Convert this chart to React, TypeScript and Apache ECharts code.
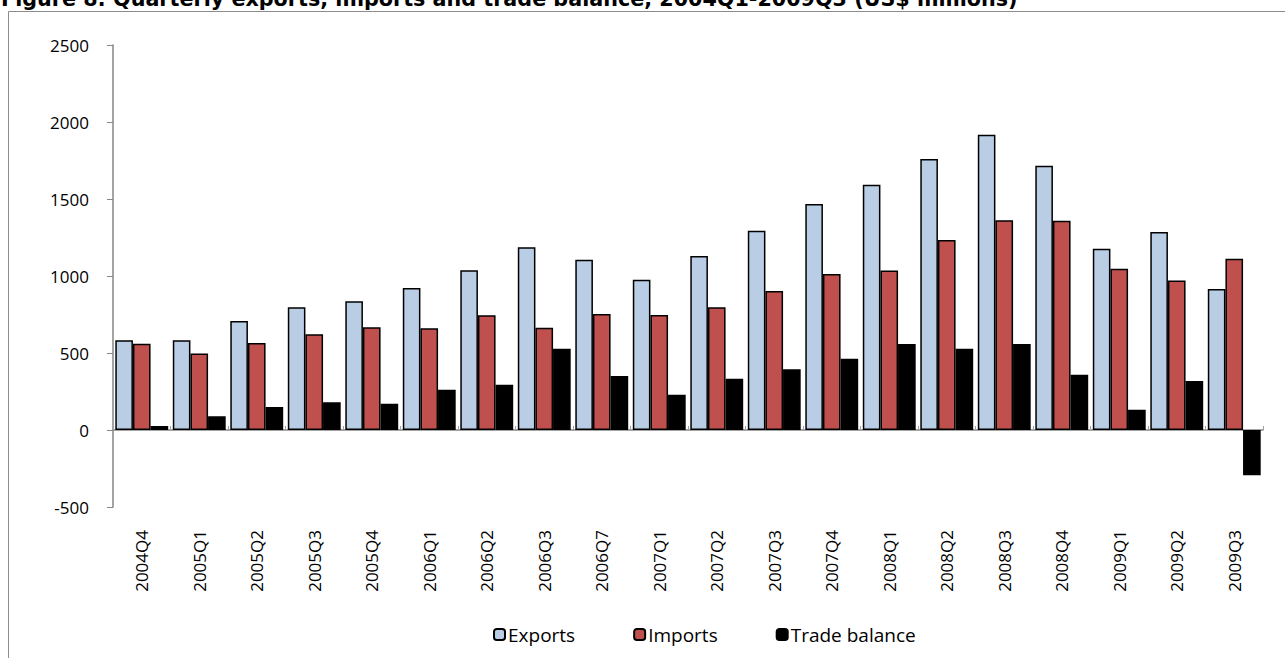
import React, { useEffect, useRef } from "react";
import * as echarts from "echarts";

const categories = [
  "2004Q4", "2005Q1", "2005Q2", "2005Q3", "2005Q4", "2006Q1", "2006Q2", "2006Q3", "2006Q7", "2007Q1",
  "2007Q2", "2007Q3", "2007Q4", "2008Q1", "2008Q2", "2008Q3", "2008Q4", "2009Q1", "2009Q2", "2009Q3",
];
const exportsData = [582, 582, 708, 797, 836, 922, 1037, 1186, 1106, 976, 1130, 1294, 1468, 1593, 1760, 1918, 1716, 1177, 1286, 916];
const importsData = [560, 496, 565, 621, 667, 660, 745, 664, 753, 747, 797, 903, 1013, 1035, 1234, 1362, 1359, 1047, 970, 1112];
const tradeData = [26, 89, 149, 180, 171, 262, 294, 528, 351, 229, 333, 394, 463, 558, 528, 558, 359, 132, 318, -294];
const titleText = "Figure 8: Quarterly exports, imports and trade balance, 2004Q1-2009Q3 (US$ millions)";

const FONT = "'Open Sans', 'DejaVu Sans', sans-serif";

export default function App() {
  const ref = useRef<HTMLDivElement>(null);
  useEffect(() => {
    if (!ref.current) return;
    const chart = echarts.init(ref.current, undefined, { renderer: "svg" });
    const barStyle = (color: string) => ({ color, borderColor: "#000", borderWidth: 1.5 });
    chart.setOption({
      animation: false,
      backgroundColor: "#fff",
      textStyle: { fontFamily: FONT },
      graphic: [
        {
          type: "rect",
          shape: { x: 8.5, y: 11.5, width: 1400, height: 800 },
          style: { fill: "none", stroke: "#8c8c8c", lineWidth: 1 },
          silent: true,
        },
        {
          type: "text",
          left: 1,
          top: -12,
          style: {
            text: titleText,
            font: "bold 20.7px 'DejaVu Sans', sans-serif",
            fill: "#000",
          },
        },
      ],
      grid: { left: 113, right: 22, top: 45, bottom: 151, containLabel: false },
      legend: {
        bottom: 9,
        left: 488,
        itemWidth: 11,
        itemHeight: 11,
        itemGap: 58,
        textStyle: { fontSize: 19, color: "#000", fontFamily: FONT, padding: [0, 0, 0, -2] },
        data: ["Exports", "Imports", "Trade balance"],
      },
      xAxis: [
        {
          type: "category",
          data: categories,
          position: "bottom",
          axisLine: { show: false, onZero: false },
          axisTick: { show: false },
          axisLabel: { rotate: 90, margin: 23, fontSize: 17, color: "#000", fontFamily: FONT },
        },
        {
          type: "category",
          data: categories,
          position: "top",
          axisLine: { show: true, onZero: true, lineStyle: { color: "#868686", width: 1.5 } },
          axisTick: { show: true, length: 4, inside: false, lineStyle: { color: "#a0a0a0" } },
          axisLabel: { show: false },
        },
      ],
      yAxis: {
        type: "value",
        min: -500,
        max: 2500,
        interval: 500,
        axisLine: { show: true, lineStyle: { color: "#868686", width: 1.5 } },
        axisTick: { show: true, length: 6, lineStyle: { color: "#868686" } },
        splitLine: { show: false },
        axisLabel: { margin: 24, fontSize: 17, color: "#000", fontFamily: FONT, formatter: (v: number) => String(v) },
      },
      series: [
        { name: "Exports", type: "bar", data: exportsData, itemStyle: barStyle("#B9CDE5"), barGap: "0%", barCategoryGap: "8%" },
        { name: "Imports", type: "bar", data: importsData, itemStyle: barStyle("#C0504D"), barGap: "0%", barCategoryGap: "8%" },
        { name: "Trade balance", type: "bar", data: tradeData, itemStyle: barStyle("#000000"), barGap: "0%", barCategoryGap: "8%" },
      ],
    });
    return () => chart.dispose();
  }, []);
  return <div ref={ref} style={{ position: "fixed", left: 0, top: 0, width: 1285, height: 658 }} />;
}
